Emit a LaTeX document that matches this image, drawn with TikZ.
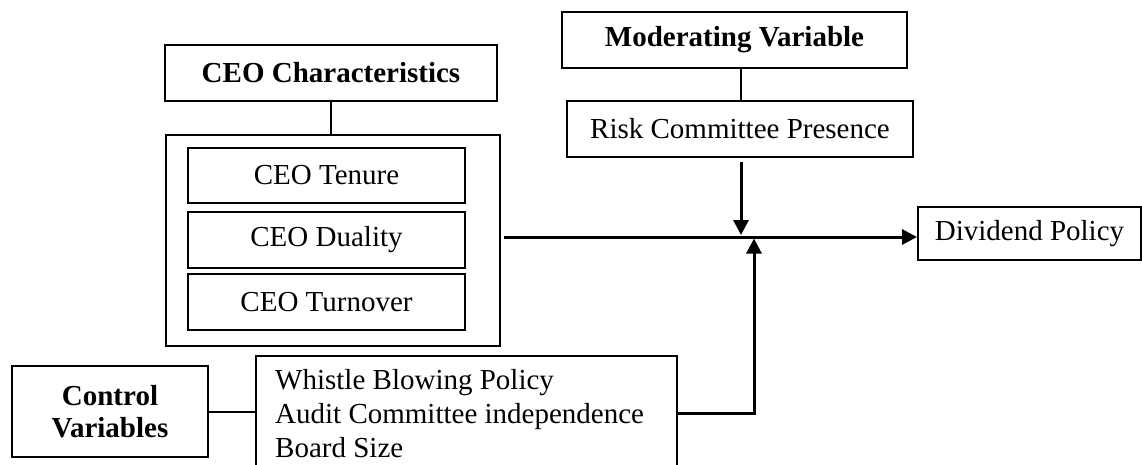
\documentclass[tikz,border=0pt]{standalone}
\usepackage{fontspec}
\setmainfont{Liberation Serif}
\usetikzlibrary{arrows.meta}
\begin{document}
\begin{tikzpicture}[x=1pt,y=-1pt,
  every node/.style={font=\fontsize{29}{32}\selectfont, text=black},
  box/.style={draw=black, line width=2pt, rectangle, inner sep=0pt},
  link/.style={draw=black, line width=2pt},
  arr/.style={draw=black, line width=3pt, -{Triangle[length=15pt,width=15pt]}},
  txt/.style={anchor=base west, inner sep=0pt}
]
\clip (0,0) rectangle (1142,465);
% CEO side
\node[box, minimum width=332, minimum height=56] (char) at (331,73) {\bfseries CEO Characteristics};
\node[box, minimum width=334, minimum height=211] (grp) at (333,240.5) {};
\node[box, minimum width=277, minimum height=55] (ten) at (326.5,175.5) {CEO Tenure};
\node[box, minimum width=277, minimum height=56] (dua) at (326.5,240) {CEO Duality};
\node[box, minimum width=277, minimum height=56] (tur) at (326.5,302) {CEO Turnover};
% Moderator
\node[box, minimum width=345, minimum height=56] (mod) at (734.5,40) {\bfseries Moderating Variable};
\node[box, minimum width=346, minimum height=56] (risk) at (740,129) {Risk Committee Presence};
% Outcome
\node[box, minimum width=223, minimum height=53] (div) at (1029.5,233.5) {Dividend Policy};
% Controls
\node[box, minimum width=196, minimum height=91, align=center] (ctrl) at (110,411.5) {\bfseries Control\\\bfseries Variables};
\node[box, anchor=north west, minimum width=421, minimum height=140] (wb) at (255,355) {};
\node[txt] (w1) at (275,389) {Whistle Blowing Policy};
\node[txt] (w2) at (275,423) {Audit Committee independence};
\node[txt] (w3) at (275,457) {Board Size};
% coordinates
\coordinate (mstart) at (504,237);
\coordinate (dstart) at (741,162);
\coordinate (dend) at (741,235);
\coordinate (wout) at (676,413);
\coordinate (ucorner) at (754,413);
\coordinate (uend) at (754,238.5);
% connectors
\draw[link] (char.south) -- (char.south |- grp.north);
\draw[link] (mod.south -| dstart) -- (risk.north -| dstart);
\draw[link] (ctrl.east) -- (ctrl.east -| wb.west);
\draw[arr] (mstart) -- (mstart -| div.west);
\draw[arr] (dstart) -- (dend);
\draw[arr] (wout) -- (ucorner) -- (uend);
\end{tikzpicture}
\end{document}
